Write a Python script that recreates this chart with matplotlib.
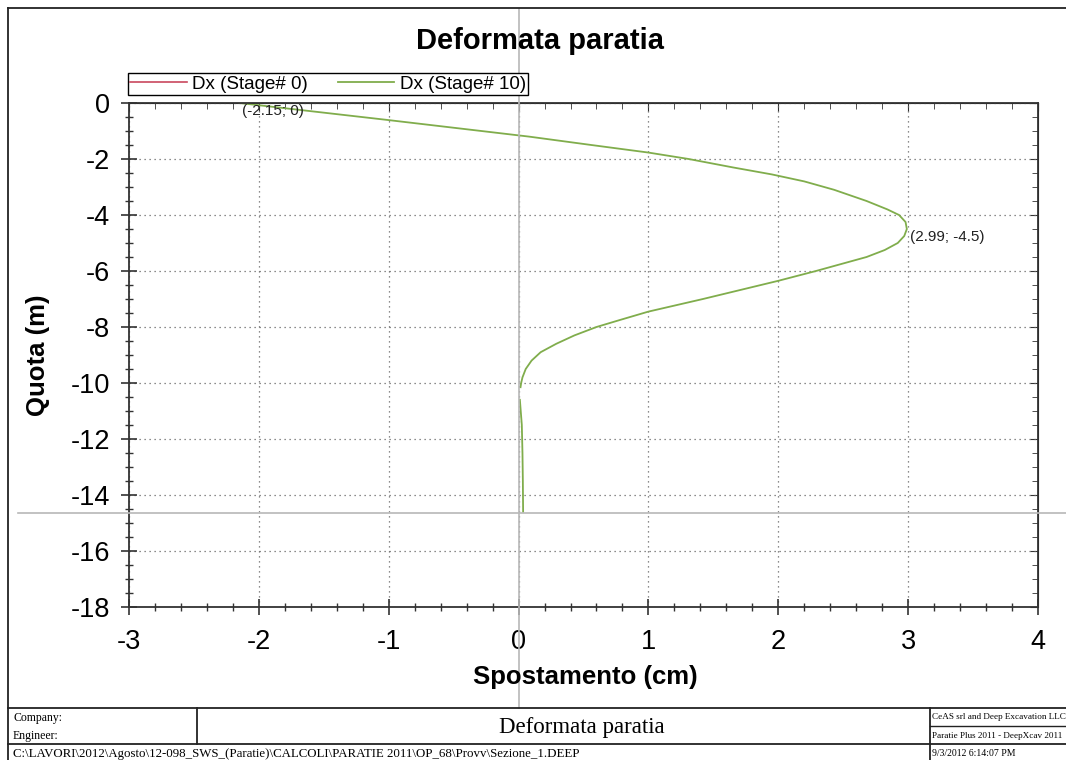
import numpy as np
import matplotlib
matplotlib.use("Agg")
import matplotlib.pyplot as plt
from matplotlib.lines import Line2D
from matplotlib.ticker import MultipleLocator
from matplotlib.transforms import blended_transform_factory

plt.rcParams['font.family'] = ['Liberation Sans', 'DejaVu Sans']
plt.rcParams['axes.unicode_minus'] = False

# wall displacement, stage 10 (nan = gap in the drawn line)
quota = [0.0, -0.6, -1.2, -1.5, -1.77, -2.0, -2.3, -2.55, -2.8, -3.1, -3.5,
         -3.8, -4.0, -4.25, -4.5, -4.75, -5.0, -5.25, -5.5, -6.0, -6.35, -7.0,
         -7.45, -7.75, -8.0, -8.3, -8.6, -8.9, -9.2, -9.5, -9.8, -10.0, -10.15, -10.3,
         -10.6, -11.5, -12.5, -13.5, -14.6]
dx_stage10 = [-2.15, -1.02, 0.08, 0.56, 1.0, 1.31, 1.65, 1.95, 2.2, 2.43, 2.68,
              2.84, 2.93, 2.98, 2.99, 2.97, 2.92, 2.82, 2.68, 2.29, 2.0, 1.42,
              1.0, 0.78, 0.6, 0.43, 0.29, 0.17, 0.1, 0.055, 0.03, 0.02, 0.015, np.nan,
              0.01, 0.025, 0.03, 0.033, 0.035]
labels_pts = [(-2.15, 0.0, "(-2.15; 0)"), (2.99, -4.5, "(2.99; -4.5)")]
cursor_x = 0.0
cursor_y = -14.65

W, H = 1066, 760
def fx(px):
    return px / W
def fy(py):
    return 1 - py / H

fig = plt.figure(figsize=(10.66, 7.6), dpi=100)
ax = fig.add_axes([fx(129), fy(607), (1038 - 129) / W, (607 - 103) / H])

green = '#80ad4c'
red = '#c9485d'
l0, = ax.plot([], [], color=red, lw=1.2, label='Dx (Stage# 0)')
l1, = ax.plot(dx_stage10, quota, color=green, lw=1.3, label='Dx (Stage# 10)')

for x, y, t in labels_pts:
    ax.annotate(t, (x, y), xytext=(2, -1), textcoords='offset points',
                ha='left', va='top', fontsize=11, color='#222222')

ax.set_xlim(-3, 4)
ax.set_ylim(-18, 0)
ax.set_xticks(range(-3, 5))
ax.set_yticks(range(-18, 1, 2))
ax.xaxis.set_minor_locator(MultipleLocator(0.2))
ax.yaxis.set_minor_locator(MultipleLocator(0.5))
ax.tick_params(which='both', direction='inout', colors='#333333', labelcolor='black',
               labelsize=19.5)
ax.tick_params(which='major', length=11, width=1.2)
ax.tick_params(which='minor', length=6, width=1.0)
ax.tick_params(axis='x', pad=10)
ax.tick_params(axis='y', pad=8)
ax.grid(which='major', linestyle=(0, (1, 3)), color='#666666', lw=0.9)
for s in ax.spines.values():
    s.set_color('#333333')
    s.set_linewidth(1.3)

top = ax.secondary_xaxis('top')
top.set_xticks(range(-3, 5))
top.xaxis.set_minor_locator(MultipleLocator(0.2))
top.tick_params(which='both', direction='in', labeltop=False, colors='#333333')
top.tick_params(which='major', length=6)
top.tick_params(which='minor', length=4)
right = ax.secondary_yaxis('right')
right.set_yticks(range(-18, 1, 2))
right.yaxis.set_minor_locator(MultipleLocator(0.5))
right.tick_params(which='both', direction='in', labelright=False, colors='#333333')
right.tick_params(which='major', length=6)
right.tick_params(which='minor', length=4)

# cursor lines crossing the whole sheet
tv = blended_transform_factory(ax.transData, fig.transFigure)
fig.add_artist(Line2D([cursor_x, cursor_x], [fy(708), fy(9)], transform=tv,
                      color='#b8b8b8', lw=1.2))
th = blended_transform_factory(fig.transFigure, ax.transData)
fig.add_artist(Line2D([fx(18), 1.0], [cursor_y, cursor_y], transform=th,
                      color='#b8b8b8', lw=1.2))

fig.text(fx(540), fy(41), 'Deformata paratia', ha='center', va='center',
         fontsize=21, fontweight='bold')
fig.text(fx(585), fy(677), 'Spostamento (cm)', ha='center', va='center',
         fontsize=18.5, fontweight='bold')
fig.text(fx(38), fy(355), 'Quota (m)', ha='center', va='center', rotation=90,
         fontsize=18.5, fontweight='bold')

leg = fig.legend(handles=[l0, l1], loc='lower left', bbox_to_anchor=(fx(128), fy(95)),
                 ncol=2, frameon=True, fancybox=False, edgecolor='black', framealpha=1,
                 borderpad=0.12, handlelength=3.0, handletextpad=0.3, columnspacing=1.6,
                 fontsize=13.5, borderaxespad=0)
leg.get_frame().set_linewidth(1.0)

# sheet frame and title block
def hline(py, x0, x1, lw=1.3):
    fig.add_artist(Line2D([fx(x0), fx(x1)], [fy(py), fy(py)], color='#222222', lw=lw))
def vline(px, y0, y1, lw=1.3):
    fig.add_artist(Line2D([fx(px), fx(px)], [fy(y0), fy(y1)], color='#222222', lw=lw))

hline(8, 8, W)
vline(8, 8, H)
hline(708, 8, W)
hline(744, 8, W)
vline(197, 708, 744)
vline(930, 708, H)
hline(726, 930, W, lw=1.0)

serif = ['Liberation Serif', 'DejaVu Serif']
fig.text(fx(13), fy(718), 'Company:', family=serif, fontsize=8.5, va='center')
fig.text(fx(13), fy(736), 'Engineer:', family=serif, fontsize=8.5, va='center')
fig.text(fx(13), fy(757), r'C:\LAVORI\2012\Agosto\12-098_SWS_(Paratie)\CALCOLI\PARATIE 2011\OP_68\Provv\Sezione_1.DEEP',
         family=serif, fontsize=9.3, va='baseline')
fig.text(fx(582), fy(728), 'Deformata paratia', family=serif, fontsize=16.5,
         ha='center', va='center')
fig.text(fx(932), fy(717), 'CeAS srl and Deep Excavation LLC', family=serif,
         fontsize=6.6, va='center')
fig.text(fx(932), fy(736), 'Paratie Plus 2011 - DeepXcav 2011', family=serif,
         fontsize=6.6, va='center')
fig.text(fx(932), fy(754), '9/3/2012 6:14:07 PM', family=serif, fontsize=7.0,
         va='center')

fig.savefig('out.png', dpi=100)
